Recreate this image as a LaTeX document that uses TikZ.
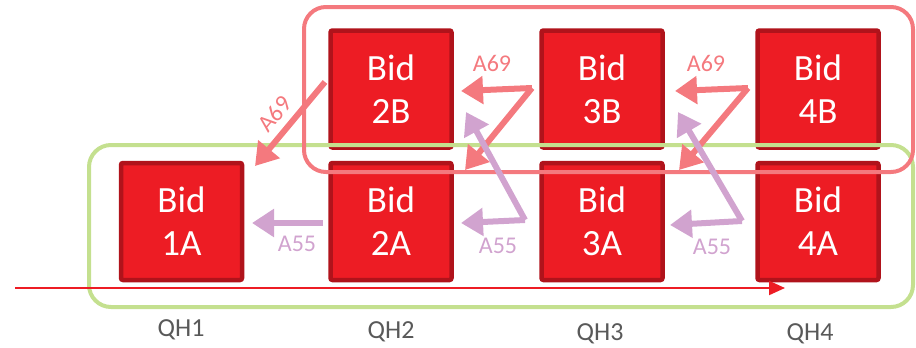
\documentclass[tikz,border=0pt]{standalone}
\usepackage{fontspec}
\setmainfont{Carlito}
\usetikzlibrary{arrows.meta}
\definecolor{boxred}{HTML}{ED1C24}
\definecolor{boxedge}{HTML}{B0131B}
\definecolor{pinkc}{HTML}{F4797E}
\definecolor{purpc}{HTML}{D1A3CF}
\definecolor{greenc}{HTML}{C4E08F}
\definecolor{greyc}{HTML}{595959}
\tikzset{
  bidbox/.style={draw=boxedge, line width=4.5pt, fill=boxred, rounded corners=2pt,
    minimum width=121pt, minimum height=117pt, inner sep=0pt, text=white, align=center,
    font=\fontsize{37}{43}\selectfont},
  pinkarr/.style={draw=pinkc, line width=6pt, -{Triangle[length=22pt,width=27pt]}},
  purparr/.style={draw=purpc, line width=6pt, -{Triangle[length=22pt,width=27pt]}},
  pinklab/.style={text=pinkc, font=\fontsize{24}{28}\selectfont, inner sep=0pt},
  purplab/.style={text=purpc, font=\fontsize{24}{28}\selectfont, inner sep=0pt},
  qhlab/.style={text=greyc, font=\fontsize{26}{30}\selectfont, inner sep=0pt},
  groupbox/.style={line width=4pt, rounded corners=22pt}
}
\begin{document}
\begin{tikzpicture}[x=1pt,y=-1pt]
\useasboundingbox (0,0) rectangle (916,348);
% boxes
\node[bidbox] (b2B) at (391,89) {Bid\\2B};
\node[bidbox] (b3B) at (602,89) {Bid\\3B};
\node[bidbox] (b4B) at (818,89) {Bid\\4B};
\node[bidbox] (b1A) at (181.5,221.5) {Bid\\1A};
\node[bidbox] (b2A) at (391,221.5) {Bid\\2A};
\node[bidbox] (b3A) at (602,221.5) {Bid\\3A};
\node[bidbox] (b4A) at (818,221.5) {Bid\\4A};
% group outlines
\draw[groupbox, draw=greenc] (89,145) rectangle (913,307);
\draw[groupbox, draw=pinkc] (304,7) rectangle (913,172);
% free-end coordinates
\coordinate (s1) at (325,82);   \coordinate (t1) at (255,166);
\coordinate (s2) at (323,223);  \coordinate (t2) at (252,223);
\coordinate (p23) at (532,88);  \coordinate (p23h) at (461,91); \coordinate (p23d) at (465,170);
\coordinate (q23) at (525,220); \coordinate (q23h) at (461,223); \coordinate (q23d) at (466,112);
\coordinate (p34) at (748,88);  \coordinate (p34h) at (675,91); \coordinate (p34d) at (679,170);
\coordinate (q34) at (742,221); \coordinate (q34h) at (670,225); \coordinate (q34d) at (678,112);
% arrows
\draw[pinkarr] (s1) -- (t1);
\draw[purparr] (s2) -- (t2);
\draw[pinkarr] (p23) -- (p23h);
\draw[pinkarr] (p23) -- (p23d);
\draw[purparr] (q23) -- (q23h);
\draw[purparr] (q23) -- (q23d);
\draw[pinkarr] (p34) -- (p34h);
\draw[pinkarr] (p34) -- (p34d);
\draw[purparr] (q34) -- (q34h);
\draw[purparr] (q34) -- (q34d);
% labels
\node[pinklab, rotate=50] (l1) at (275,114) {A69};
\node[pinklab] (l2) at (492,63) {A69};
\node[pinklab] (l3) at (706,63) {A69};
\node[purplab] (l4) at (297,244) {A55};
\node[purplab] (l5) at (498,246) {A55};
\node[purplab] (l6) at (712,247) {A55};
% time line
\coordinate (r0) at (15,288);
\coordinate (r1) at (785,288);
\draw[draw=boxred, line width=2pt, -{Triangle[length=16pt,width=14pt]}] (r0) -- (r1);
% quarter labels
\node[qhlab] (q1) at (181,330) {QH1};
\node[qhlab] (q2) at (391,332) {QH2};
\node[qhlab] (q3) at (600,334) {QH3};
\node[qhlab] (q4) at (810,334) {QH4};
\end{tikzpicture}
\end{document}
